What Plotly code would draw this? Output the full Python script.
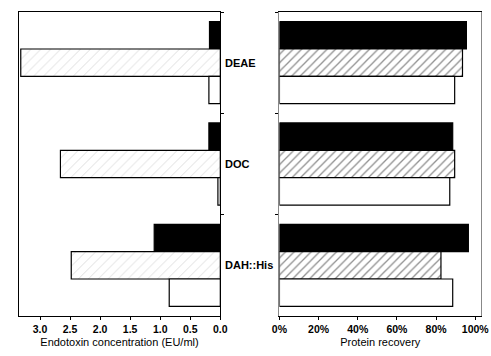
import plotly.graph_objects as go

categories = ["DEAE", "DOC", "DAH::His"]
series_names = ["Black", "Dotted", "White"]
endotoxin_black = [0.18, 0.19, 1.10]
endotoxin_dotted = [3.32, 2.66, 2.48]
endotoxin_white = [0.19, 0.04, 0.85]
recovery_black = [95.5, 88.5, 96.5]
recovery_hatched = [93.5, 89.5, 82.5]
recovery_white = [89.5, 87.0, 88.5]
endo_ticks = [3.0, 2.5, 2.0, 1.5, 1.0, 0.5, 0.0]
endo_ticklabels = ["3.0", "2.5", "2.0", "1.5", "1.0", "0.5", "0.0"]
rec_ticks = [0, 20, 40, 60, 80, 100]
rec_ticklabels = ["0%", "20%", "40%", "60%", "80%", "100%"]

FONT = "Liberation Sans, Arial, sans-serif"
line = dict(color="black", width=1.2)

fig = go.Figure()

# left panel
fig.add_trace(go.Bar(y=categories, x=endotoxin_black, orientation="h", xaxis="x", yaxis="y",
                     marker=dict(color="black", line=line), name=series_names[0], showlegend=False))
fig.add_trace(go.Bar(y=categories, x=endotoxin_dotted, orientation="h", xaxis="x", yaxis="y",
                     marker=dict(color="white", line=line,
                                 pattern=dict(shape="/", fgcolor="#a0a0a0", bgcolor="white", size=7, solidity=0.1)),
                     name=series_names[1], showlegend=False))
fig.add_trace(go.Bar(y=categories, x=endotoxin_white, orientation="h", xaxis="x", yaxis="y",
                     marker=dict(color="white", line=line), name=series_names[2], showlegend=False))

# right panel
fig.add_trace(go.Bar(y=categories, x=recovery_black, orientation="h", xaxis="x2", yaxis="y2",
                     marker=dict(color="black", line=line), name=series_names[0], showlegend=False))
fig.add_trace(go.Bar(y=categories, x=recovery_hatched, orientation="h", xaxis="x2", yaxis="y2",
                     marker=dict(color="white", line=line,
                                 pattern=dict(shape="/", fgcolor="#222", bgcolor="white", size=6, solidity=0.22)),
                     name=series_names[1], showlegend=False))
fig.add_trace(go.Bar(y=categories, x=recovery_white, orientation="h", xaxis="x2", yaxis="y2",
                     marker=dict(color="white", line=line), name=series_names[2], showlegend=False))

W, H = 491, 356
ydom = [1 - 316 / H, 1 - 12 / H]
tickfont = dict(family=FONT, size=10.5, color="black", weight="bold")

fig.update_layout(
    width=W, height=H,
    margin=dict(l=0, r=0, t=0, b=0),
    paper_bgcolor="white", plot_bgcolor="white",
    barmode="group", bargap=0.19, bargroupgap=0,
    font=dict(family=FONT, size=11, color="black"),
    xaxis=dict(domain=[11 / W, 219 / W], range=[3.355, 0], tickvals=endo_ticks, ticktext=endo_ticklabels,
               ticks="outside", ticklen=3, tickcolor="black", showgrid=False, zeroline=False,
               showline=True, linecolor="black", linewidth=1, mirror=True, tickfont=tickfont,
               title=dict(text="Endotoxin concentration (EU/ml)", font=dict(family=FONT, size=11), standoff=4),
               anchor="y", fixedrange=True),
    yaxis=dict(domain=ydom, autorange="reversed", side="right", showticklabels=False,
               ticks="outside", tickson="boundaries", ticklen=3, tickcolor="black",
               showgrid=False, zeroline=False, showline=True, linecolor="black", linewidth=1, mirror=True,
               anchor="x"),
    xaxis2=dict(domain=[280 / W, 488 / W], range=[0, 103], tickvals=rec_ticks, ticktext=rec_ticklabels,
                ticks="outside", ticklen=3, tickcolor="black", showgrid=False, zeroline=False,
                showline=True, linecolor="black", linewidth=1, mirror=True, tickfont=tickfont,
                title=dict(text="Protein recovery", font=dict(family=FONT, size=11), standoff=4),
                anchor="y2"),
    yaxis2=dict(domain=ydom, autorange="reversed", side="left", showticklabels=False,
                ticks="outside", tickson="boundaries", ticklen=3, tickcolor="black",
                showgrid=False, zeroline=False, showline=True, linecolor="#888", linewidth=1, mirror=True,
                anchor="x2"),
)

# group labels between panels
for cat in categories:
    fig.add_annotation(x=222 / W, xref="paper", xanchor="left", y=cat, yref="y", yanchor="middle",
                       text=cat, showarrow=False, font=dict(family=FONT, size=11, color="black", weight="bold"))

fig.write_html("out.html", config={"displayModeBar": False},
               post_script="document.body.style.margin='0';document.body.style.padding='0';document.body.style.overflow='hidden';")
